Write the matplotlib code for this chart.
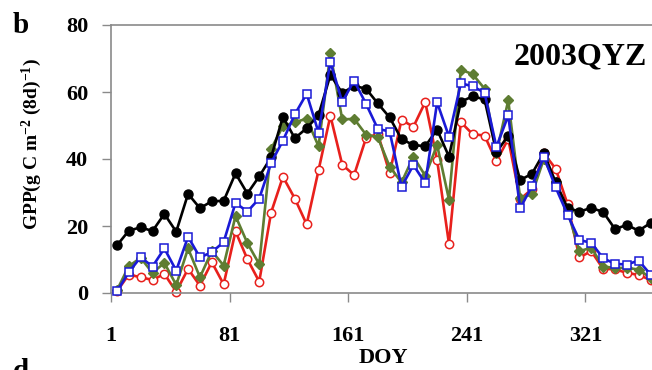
"""GPP seasonal course at QYZ in 2003: observed vs. modelled 8-day sums."""

import matplotlib

matplotlib.use("Agg")

import matplotlib.pyplot as plt
import numpy as np

# 8-day composite centres (DOY 5, 13, ..., 365)
doy = np.arange(5, 366, 8)

gpp_obs = [
    14.2, 18.6, 19.6, 18.5, 23.6, 18.3, 29.6, 25.3, 27.4, 27.5,
    35.7, 29.7, 34.8, 40.5, 52.6, 46.2, 49.2, 53.1, 65.1, 59.7,
    61.8, 61.0, 56.6, 52.4, 45.9, 44.2, 43.8, 48.8, 40.7, 57.1,
    58.7, 57.8, 42.0, 47.0, 33.7, 35.6, 41.8, 33.0, 25.4, 24.3,
    25.4, 24.2, 19.1, 20.3, 18.6, 20.9,
]
gpp_red = [
    0.5, 5.5, 4.7, 3.9, 5.7, 0.4, 7.2, 2.2, 9.2, 2.6,
    18.4, 10.1, 3.4, 24.0, 34.7, 28.2, 20.5, 36.6, 52.9, 38.3,
    35.2, 46.2, 47.5, 35.8, 51.7, 49.6, 57.0, 39.7, 14.7, 51.0,
    47.4, 47.0, 39.3, 46.0, 28.0, 31.0, 41.7, 37.1, 26.5, 10.6,
    12.5, 7.2, 7.1, 6.0, 5.4, 3.9,
]
gpp_green = [
    0.8, 8.0, 10.5, 6.0, 9.0, 2.4, 13.3, 4.7, 12.5, 8.2,
    23.0, 14.9, 8.6, 43.0, 49.8, 51.0, 52.0, 43.8, 71.5, 51.8,
    52.0, 47.3, 46.5, 37.7, 33.0, 40.7, 35.0, 44.2, 27.9, 66.7,
    65.3, 61.0, 41.7, 57.5, 28.3, 29.5, 40.0, 33.0, 24.5, 12.5,
    13.5, 7.9, 7.5, 7.5, 7.0, 4.5,
]
gpp_blue = [
    0.5, 6.2, 10.7, 7.9, 13.3, 6.7, 16.8, 10.6, 12.2, 15.2,
    26.9, 24.3, 28.2, 38.8, 45.5, 53.3, 59.5, 47.9, 69.0, 57.0,
    63.4, 56.5, 49.0, 48.2, 31.7, 38.2, 32.8, 56.9, 46.7, 62.6,
    61.7, 59.8, 43.6, 53.0, 25.3, 31.9, 40.7, 31.5, 23.4, 15.8,
    15.0, 10.4, 8.7, 8.5, 9.7, 5.5,
]

xticks = [1, 81, 161, 241, 321]
yticks = [0, 20, 40, 60, 80]

plt.rcParams["font.family"] = ["Liberation Serif", "DejaVu Serif"]
plt.rcParams["font.weight"] = "bold"
plt.rcParams["mathtext.fontset"] = "custom"
plt.rcParams["mathtext.rm"] = "Liberation Serif:bold"
plt.rcParams["mathtext.it"] = "Liberation Serif:bold"

W, H = 652, 370
fig = plt.figure(figsize=(W / 100, H / 100), dpi=100)
# right edge runs just past the figure, so the right spine is not shown
ax = fig.add_axes([111 / W, 77 / H, 544 / W, 268 / H])

lw = 1.9
ax.plot(doy, gpp_red, color="#e8201c", lw=lw, marker="o", ms=6,
        mfc="white", mec="#e8201c", mew=1.1, zorder=2, clip_on=False)
ax.plot(doy, gpp_green, color="#5e7d32", lw=lw, marker="D", ms=5.5,
        mfc="#5e7d32", mec="#5e7d32", zorder=3, clip_on=False)
ax.plot(doy, gpp_obs, color="black", lw=lw, marker="o", ms=6.5,
        mfc="black", mec="black", zorder=4, clip_on=False)
ax.plot(doy, gpp_blue, color="#1a1ad6", lw=lw, marker="s", ms=5.5,
        mfc="white", mec="#1a1ad6", mew=1.1, zorder=5, clip_on=False)

ax.set_xlim(1, 368)
ax.set_ylim(0, 80)
ax.set_xticks(xticks)
ax.set_yticks(yticks)
ax.tick_params(axis="both", direction="out", length=6.5, width=1,
               color="#8a8a8a", labelsize=16)
ax.tick_params(axis="x", pad=17)
ax.tick_params(axis="y", pad=10)
for side in ("left", "bottom", "top", "right"):
    ax.spines[side].set_color("#8a8a8a")
    ax.spines[side].set_linewidth(1.2)

ax.text(0.985, 0.88, "2003QYZ", transform=ax.transAxes, ha="right",
        va="center", fontsize=23, fontweight="bold")

fig.text(383 / W, 1 - 358 / H, "DOY", ha="center", va="center",
         fontsize=16, fontweight="bold")
fig.text(32 / W, 1 - 144 / H, r"GPP(g C m$^{-2}$ (8d)$^{-1}$)",
         rotation=90, ha="center", va="center", fontsize=14, fontweight="bold")
fig.text(13 / W, 1 - 33 / H, "b", ha="left", va="baseline",
         fontsize=21, fontweight="bold")
# next panel's letter, only its top shows at the lower edge
fig.text(13 / W, 1 - 358 / H, "d", ha="left", va="top",
         fontsize=21, fontweight="bold")

fig.savefig("out.png", dpi=100)
